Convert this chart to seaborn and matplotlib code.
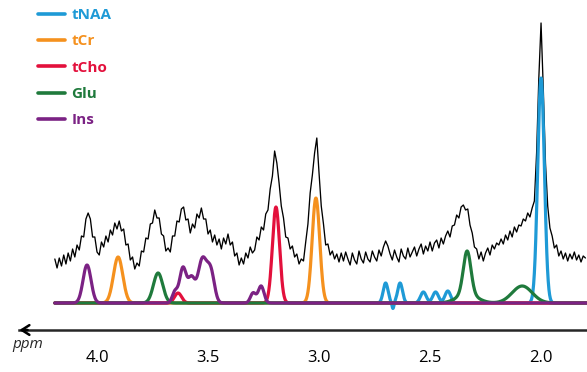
import numpy as np
import pandas as pd
import matplotlib
matplotlib.use("Agg")
import matplotlib.pyplot as plt
import seaborn as sns

# ---------------- data ----------------
metabolites = ["tNAA", "tCr", "tCho", "Glu", "Ins"]
colors = ["#1E9AD6", "#F5911E", "#E3103C", "#1F7A3C", "#7B2284"]

# component peaks: centre (ppm), height, width (sigma, ppm)
naa_ppm = [2.000, 2.700, 2.635, 2.667, 2.530, 2.475, 2.420]
naa_height = [225, 20, 20, -6, 11, 11, 12]
naa_width = [0.015, 0.011, 0.011, 0.004, 0.013, 0.013, 0.013]

cr_ppm = [3.905, 3.014]
cr_height = [46, 105]
cr_width = [0.021, 0.017]

cho_ppm = [3.194, 3.635]
cho_height = [96, 10]
cho_width = [0.016, 0.016]

glu_ppm = [3.725, 2.333, 2.333, 2.085]
glu_height = [30, 43, 9, 17]
glu_width = [0.021, 0.017, 0.045, 0.045]

ins_ppm = [4.045, 3.649, 3.613, 3.575, 3.525, 3.487, 3.297, 3.261]
ins_height = [38, 11, 35, 24, 44, 29, 10, 17]
ins_width = [0.018, 0.012, 0.015, 0.015, 0.020, 0.016, 0.012, 0.013]

# measured spectrum, sampled every 0.01 ppm from 4.19 down to 1.80
spec_start, spec_stop = 4.19, 1.80
spectrum = [
    44, 35, 45, 37, 48, 39, 50, 42, 54, 46,
    58, 53, 67, 66, 84, 90, 84, 66, 66, 51,
    48, 61, 56, 67, 61, 73, 68, 80, 74, 82,
    72, 74, 58, 59, 43, 46, 34, 40, 37, 52,
    51, 65, 64, 79, 80, 93, 85, 85, 69, 67,
    52, 55, 51, 67, 67, 82, 81, 94, 96, 83,
    84, 70, 79, 75, 89, 85, 95, 84, 84, 69,
    73, 61, 68, 58, 64, 54, 65, 59, 69, 58,
    61, 47, 50, 38, 45, 39, 50, 45, 56, 50,
    53, 66, 63, 76, 73, 89, 93, 114, 127, 152,
    140, 120, 97, 85, 66, 65, 54, 57, 46, 49,
    39, 44, 42, 61, 79, 110, 128, 150, 165, 130,
    97, 79, 58, 59, 48, 52, 44, 49, 41, 50,
    42, 51, 44, 38, 50, 43, 39, 52, 44, 40,
    51, 44, 41, 52, 46, 42, 53, 47, 56, 62,
    57, 49, 43, 53, 46, 41, 54, 47, 44, 55,
    46, 51, 56, 47, 54, 59, 49, 57, 52, 61,
    52, 60, 63, 55, 65, 59, 67, 72, 66, 77,
    78, 88, 85, 96, 98, 93, 94, 78, 70, 56,
    54, 44, 51, 42, 50, 55, 48, 58, 54, 60,
    58, 64, 59, 68, 63, 72, 66, 76, 71, 78,
    77, 84, 82, 90, 86, 95, 102, 150, 225, 280,
    215, 140, 97, 75, 67, 55, 58, 47, 52, 44,
    50, 42, 49, 44, 51, 43, 48, 41, 47, 45,
]

tick_values = [4.0, 3.5, 3.0, 2.5, 2.0]
tick_labels = ["4.0", "3.5", "3.0", "2.5", "2.0"]

# ---------------- build tables ----------------
grid = np.linspace(spec_start, spec_stop - 0.01, 1500)


def component(centres, heights, widths):
    y = np.zeros_like(grid)
    for c, h, w in zip(centres, heights, widths):
        y += h * np.exp(-0.5 * ((grid - c) / w) ** 2)
    return y


comp_params = {
    "tNAA": (naa_ppm, naa_height, naa_width),
    "tCr": (cr_ppm, cr_height, cr_width),
    "tCho": (cho_ppm, cho_height, cho_width),
    "Glu": (glu_ppm, glu_height, glu_width),
    "Ins": (ins_ppm, ins_height, ins_width),
}
frames = []
for name in metabolites:
    frames.append(pd.DataFrame({"ppm": grid,
                                "signal": component(*comp_params[name]),
                                "metabolite": name}))
comp_df = pd.DataFrame(pd.concat(frames, ignore_index=True))

spec_df = pd.DataFrame({
    "ppm": np.linspace(spec_start, spec_stop, len(spectrum)),
    "signal": spectrum,
})

# ---------------- plot ----------------
sns.set_style("white")
plt.rcParams["font.family"] = ["Open Sans", "DejaVu Sans"]

fig = plt.figure(figsize=(5.87, 3.72), dpi=100)
ax = fig.add_axes([0, 0, 1, 1])

sns.lineplot(data=spec_df, x="ppm", y="signal", color="black",
             linewidth=0.95, sort=False, estimator=None, ax=ax, zorder=2)
sns.lineplot(data=comp_df, x="ppm", y="signal", hue="metabolite",
             hue_order=metabolites, palette=dict(zip(metabolites, colors)),
             linewidth=2.3, sort=False, estimator=None, ax=ax, zorder=3)

ax.set_xlim(4.437, 1.793)
ax.set_ylim(-69, 303)
ax.set_xlabel("")
ax.set_ylabel("")

for side in ["top", "left", "right"]:
    ax.spines[side].set_visible(False)
ax.spines["bottom"].set_position(("data", -27))
ax.spines["bottom"].set_bounds(1.793, 4.35)
ax.spines["bottom"].set_linewidth(1.8)
ax.tick_params(axis="y", left=False, labelleft=False)
ax.set_xticks(tick_values)
ax.set_xticklabels(tick_labels)
ax.tick_params(axis="x", direction="inout", length=17.5, width=1.8,
               labelsize=12, pad=5.5, colors="black")

ax.annotate("", xy=(4.362, -27), xytext=(4.30, -27),
            arrowprops=dict(arrowstyle="->,head_length=0.55,head_width=0.35",
                            lw=1.8, color="black"))
ax.text(12 / 587, 1 - 345 / 372, "ppm", transform=ax.transAxes,
        ha="left", va="center", fontsize=11, style="italic")

handles, labels = ax.get_legend_handles_labels()
leg = ax.legend(handles, labels, loc="upper left",
                bbox_to_anchor=(38 / 587, 1 - 8 / 372), frameon=False,
                borderpad=0, borderaxespad=0, handlelength=1.75,
                handletextpad=0.45, labelspacing=0.81, labelcolor="linecolor",
                prop={"weight": "bold", "size": 11})
for line in leg.get_lines():
    line.set_linewidth(2.6)

fig.savefig("out.png", dpi=100)
